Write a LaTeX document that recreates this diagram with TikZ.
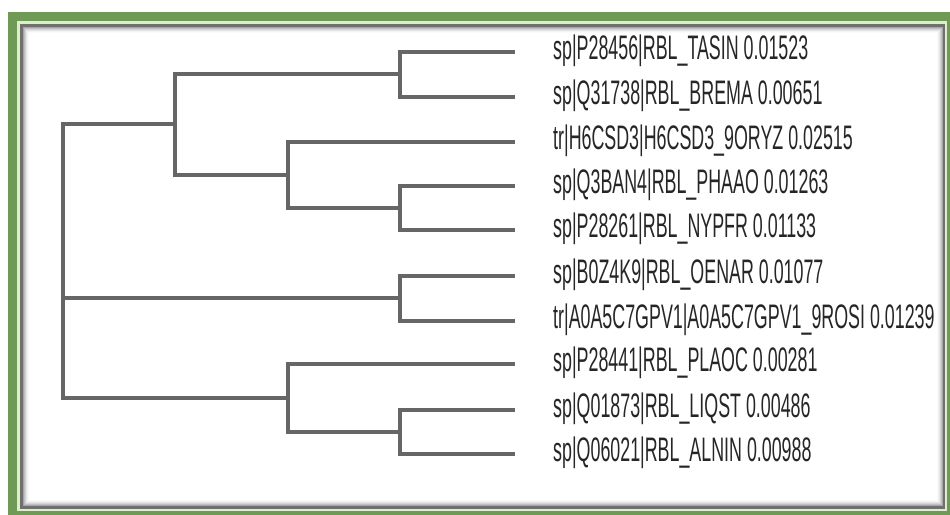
\documentclass[tikz,border=0pt]{standalone}
\usepackage{fontspec}
\setmainfont[FakeStretch=0.525]{Liberation Sans}
\definecolor{framegreen}{HTML}{6F9A55}
\definecolor{lightgreen}{HTML}{DCEFC6}
\definecolor{edgegray}{HTML}{707070}
\definecolor{branchgray}{HTML}{666666}
\definecolor{labelblack}{HTML}{262626}
\tikzset{
  branch/.style={draw=branchgray, line width=3.2pt, line cap=rect},
  leaflabel/.style={anchor=base west, inner sep=0pt, text=labelblack, font=\fontsize{34}{34}\selectfont},
}
\begin{document}
\begin{tikzpicture}[x=1pt,y=-1pt]
\useasboundingbox (0,0) rectangle (950,514);
\fill[white] (0,0) rectangle (950,514);
% frame
\fill[framegreen] (8,12) rectangle (960,524);
\fill[lightgreen] (17,21) rectangle (947,511);
\fill[edgegray] (20,24) rectangle (945,509);
\fill[white] (23,27) rectangle (943,506);
\foreach \i/\o in {0/0.35,1/0.25,2/0.17,3/0.1,4/0.05,5/0.02}{
  \draw[black, opacity=\o, line width=1pt] (23.5+\i,506-\i) -- (23.5+\i,27.5+\i) -- (943-\i,27.5+\i);
  \draw[black, opacity=\o, line width=1pt] (23.5+\i,505.5-\i) -- (942.5-\i,505.5-\i) -- (942.5-\i,27.5+\i);
}
% internal nodes
\coordinate (root) at (63,261);
\coordinate (nA) at (175,124);
\coordinate (nB) at (400,74);
\coordinate (nE) at (288,175);
\coordinate (nF) at (400,208);
\coordinate (nC) at (400,298);
\coordinate (nD) at (288,398);
\coordinate (nG) at (400,432);
% leaves
\foreach \k/\y in {1/52,2/97,3/142,4/186,5/230,6/276,7/321,8/364,9/410,10/454}{
  \coordinate (l\k) at (513,\y);
}
\node[leaflabel] (t1) at (553,59) {sp|P28456|RBL\_TASIN 0.01523};
\node[leaflabel] (t2) at (553,104) {sp|Q31738|RBL\_BREMA 0.00651};
\node[leaflabel] (t3) at (553,149) {tr|H6CSD3|H6CSD3\_9ORYZ 0.02515};
\node[leaflabel] (t4) at (553,193) {sp|Q3BAN4|RBL\_PHAAO 0.01263};
\node[leaflabel] (t5) at (553,237) {sp|P28261|RBL\_NYPFR 0.01133};
\node[leaflabel] (t6) at (553,283) {sp|B0Z4K9|RBL\_OENAR 0.01077};
\node[leaflabel] (t7) at (553,328) {tr|A0A5C7GPV1|A0A5C7GPV1\_9ROSI 0.01239};
\node[leaflabel] (t8) at (553,371) {sp|P28441|RBL\_PLAOC 0.00281};
\node[leaflabel] (t9) at (553,417) {sp|Q01873|RBL\_LIQST 0.00486};
\node[leaflabel] (t10) at (553,461) {sp|Q06021|RBL\_ALNIN 0.00988};
% branches
\draw[branch] (root) |- (nA);
\draw[branch] (root) |- (nC);
\draw[branch] (root) |- (nD);
\draw[branch] (nA) |- (nB);
\draw[branch] (nA) |- (nE);
\draw[branch] (nB) |- (l1);
\draw[branch] (nB) |- (l2);
\draw[branch] (nE) |- (l3);
\draw[branch] (nE) |- (nF);
\draw[branch] (nF) |- (l4);
\draw[branch] (nF) |- (l5);
\draw[branch] (nC) |- (l6);
\draw[branch] (nC) |- (l7);
\draw[branch] (nD) |- (l8);
\draw[branch] (nD) |- (nG);
\draw[branch] (nG) |- (l9);
\draw[branch] (nG) |- (l10);
\end{tikzpicture}
\end{document}
